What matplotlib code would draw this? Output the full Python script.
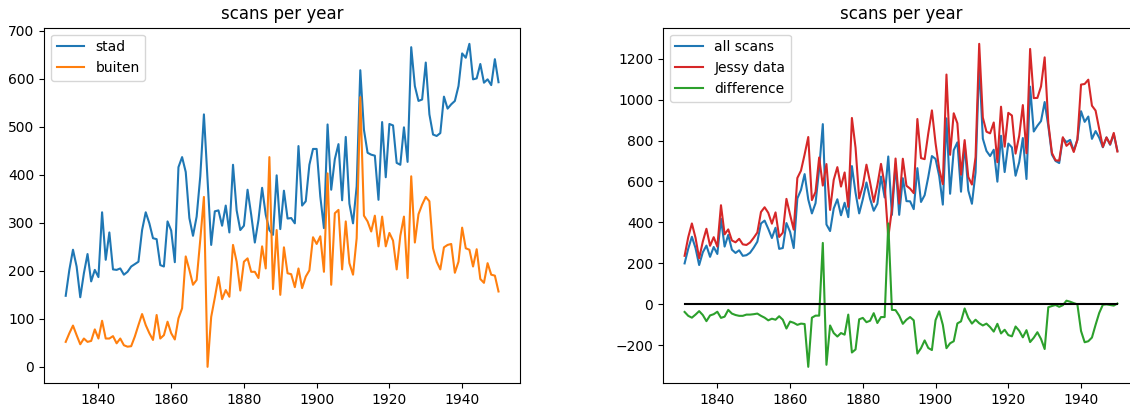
import numpy as np
import matplotlib
matplotlib.use("Agg")
import matplotlib.pyplot as plt

years = np.arange(1831, 1951)

# scans per year
stad = [148, 202, 244, 209, 145, 195, 235, 178, 202, 187,
        322, 223, 280, 203, 202, 205, 192, 198, 209, 214,
        219, 285, 322, 299, 268, 266, 212, 209, 303, 284,
        218, 416, 437, 406, 310, 273, 313, 397, 526, 390,
        254, 324, 326, 294, 336, 280, 421, 326, 285, 294,
        369, 317, 259, 306, 373, 317, 285, 275, 399, 287,
        367, 309, 310, 299, 460, 336, 345, 421, 454, 454,
        355, 289, 505, 369, 433, 464, 347, 479, 340, 299,
        376, 618, 494, 446, 442, 440, 348, 510, 395, 506,
        503, 425, 421, 499, 427, 666, 585, 554, 557, 634,
        526, 484, 481, 487, 563, 538, 547, 554, 585, 653,
        644, 673, 599, 601, 631, 592, 599, 587, 641, 593]

buiten = [52, 70, 86, 66, 47, 59, 52, 54, 78, 59,
          96, 59, 59, 64, 49, 59, 45, 42, 43, 63,
          87, 110, 87, 70, 56, 108, 59, 66, 94, 70,
          57, 101, 122, 230, 202, 171, 181, 265, 354, 0,
          104, 144, 187, 141, 160, 146, 254, 219, 159, 219,
          226, 198, 198, 185, 251, 205, 437, 162, 285, 150,
          249, 195, 193, 166, 205, 164, 188, 201, 270, 256,
          272, 198, 403, 171, 320, 327, 203, 303, 216, 192,
          268, 562, 315, 303, 282, 315, 251, 313, 251, 279,
          263, 203, 273, 313, 185, 397, 259, 318, 338, 354,
          345, 247, 219, 203, 249, 254, 256, 196, 219, 290,
          247, 244, 209, 245, 183, 175, 216, 192, 190, 157]

jessy = [237, 328, 395, 325, 225, 306, 369, 286, 328, 282,
         484, 342, 366, 312, 303, 320, 293, 290, 302, 325,
         351, 451, 474, 447, 394, 449, 329, 350, 515, 438,
         365, 617, 653, 732, 817, 509, 549, 717, 580, 685,
         461, 608, 670, 575, 644, 476, 910, 765, 517, 579,
         682, 595, 500, 582, 686, 584, 327, 464, 712, 492,
         711, 579, 565, 543, 905, 714, 709, 835, 947, 787,
         661, 587, 1122, 730, 933, 884, 633, 802, 622, 585,
         719, 1272, 912, 843, 835, 888, 694, 965, 770, 935,
         922, 736, 823, 973, 738, 1247, 1007, 1008, 1064, 1206,
         885, 739, 703, 702, 816, 774, 790, 744, 804, 1073,
         1076, 1097, 970, 946, 856, 769, 815, 782, 837, 746]

stad = np.array(stad)
buiten = np.array(buiten)
jessy = np.array(jessy)
all_scans = stad + buiten
difference = all_scans - jessy

fig, (ax1, ax2) = plt.subplots(1, 2, figsize=(11.3, 4.07), dpi=100)
fig.subplots_adjust(left=0.039, right=1.008, bottom=0.059, top=0.932, wspace=0.3)

# left: stad vs buiten
ax1.plot(years, stad, label='stad')
ax1.plot(years, buiten, label='buiten')
ax1.set_title('scans per year')
ax1.legend(loc='upper left')

# right: total vs Jessy data
ax2.plot(years, all_scans, color='tab:blue', label='all scans')
ax2.plot(years, jessy, color='tab:red', label='Jessy data')
ax2.plot(years, difference, color='tab:green', label='difference')
ax2.plot(years, np.zeros(len(years)), color='black')
ax2.set_title('scans per year')
ax2.legend(loc='upper left')

fig.savefig('out.png', dpi=100)
